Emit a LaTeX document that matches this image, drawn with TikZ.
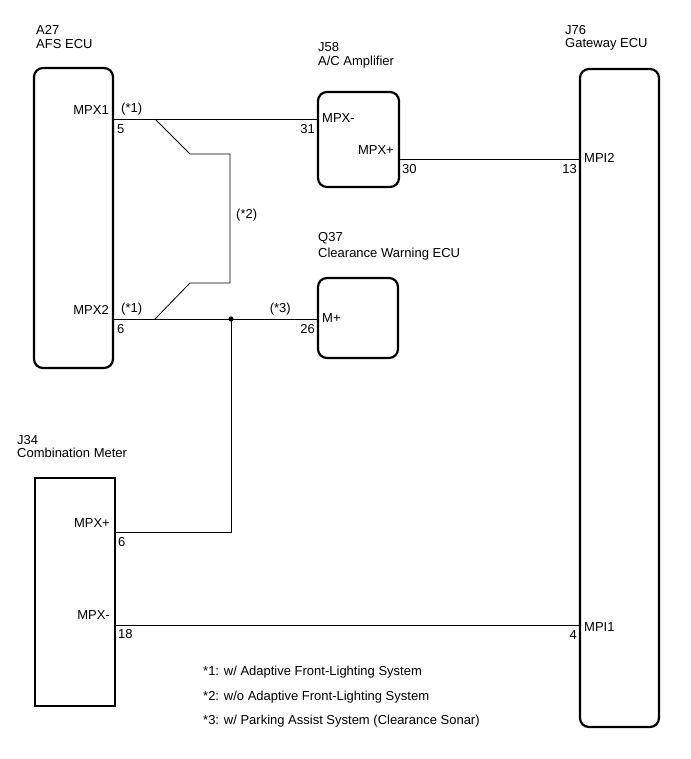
\documentclass[tikz,border=0pt]{standalone}
\usepackage{fontspec}
\setmainfont{Liberation Sans}
\begin{document}
\begin{tikzpicture}[x=1pt,y=-1pt,font=\fontsize{13}{14}\selectfont,
  ecu/.style={draw,line width=2.2pt,rounded corners=9pt},
  wire/.style={line width=0.8pt},
  lbl/.style={inner sep=0pt,anchor=west,align=left},
  pin/.style={inner sep=0pt}]
\useasboundingbox (0,0) rectangle (690,759);

%% A27
\node[lbl] at (36,30) {A27};
\node[lbl] at (36,44) {AFS ECU};
\draw[ecu] (34,68) rectangle (113,368);
\coordinate (a27p5) at (113,119);
\coordinate (a27p6) at (113,319);
\node[pin,anchor=east] at (109,110) {MPX1};
\node[pin,anchor=west] at (117,129) {5};
\node[pin,anchor=west] at (121,109) {(*1)};
\node[pin,anchor=east] at (109,310) {MPX2};
\node[pin,anchor=west] at (117,329) {6};
\node[pin,anchor=west] at (121,309) {(*1)};

%% J58
\node[lbl] at (318,47) {J58};
\node[lbl] at (318,62) {A/C Amplifier};
\draw[ecu] (318,92) rectangle (399,187);
\coordinate (j58p31) at (318,119);
\coordinate (j58p30) at (399,159);
\node[pin,anchor=west] at (322,118) {MPX-};
\node[pin,anchor=east] at (315,129) {31};
\node[pin,anchor=east] at (394,150) {MPX+};
\node[pin,anchor=west] at (402,169) {30};

%% Q37
\node[lbl] at (318,238) {Q37};
\node[lbl] at (318,254) {Clearance Warning ECU};
\draw[ecu] (318,278) rectangle (398,358);
\coordinate (q37p26) at (318,319);
\node[pin,anchor=west] at (322,318) {M+};
\node[pin,anchor=east] at (291,309) {(*3)};
\node[pin,anchor=east] at (315,329) {26};

%% J76
\node[lbl] at (565,30) {J76};
\node[lbl] at (565,44) {Gateway ECU};
\draw[ecu] (580,69) rectangle (659,727);
\coordinate (j76p13) at (580,159);
\coordinate (j76p4) at (580,625);
\node[pin,anchor=west] at (584,158) {MPI2};
\node[pin,anchor=east] at (577,169) {13};
\node[pin,anchor=west] at (584,627) {MPI1};
\node[pin,anchor=east] at (577,635) {4};

%% J34
\node[lbl] at (17,440) {J34};
\node[lbl] at (17,453) {Combination Meter};
\draw[ecu,rounded corners=0pt] (35,478) rectangle (115,706);
\coordinate (j34p6) at (115,532);
\coordinate (j34p18) at (115,625);
\node[pin,anchor=east] at (110,523) {MPX+};
\node[pin,anchor=west] at (118,542) {6};
\node[pin,anchor=east] at (110,615) {MPX-};
\node[pin,anchor=west] at (118,634) {18};

%% wires
\coordinate (jn) at (231,319);
\draw[wire] (a27p5) -- (j58p31);
\draw[wire] (a27p6) -- (q37p26);
\draw[wire] (j58p30) -- (j76p13);
\draw[wire] (j34p18) -- (j76p4);
\draw[wire] (155,119) -- (190,154) -- (230,154) -- (230,283) -- (190,283) -- (155,319);
\node[pin,anchor=west] at (236,215) {(*2)};
\fill (jn) circle (2.6pt);
\draw[wire] (jn) |- (j34p6);

%% notes
\node[lbl] at (203,672) {*1: w/ Adaptive Front-Lighting System};
\node[lbl] at (203,697) {*2: w/o Adaptive Front-Lighting System};
\node[lbl] at (203,721) {*3: w/ Parking Assist System (Clearance Sonar)};
\end{tikzpicture}
\end{document}
